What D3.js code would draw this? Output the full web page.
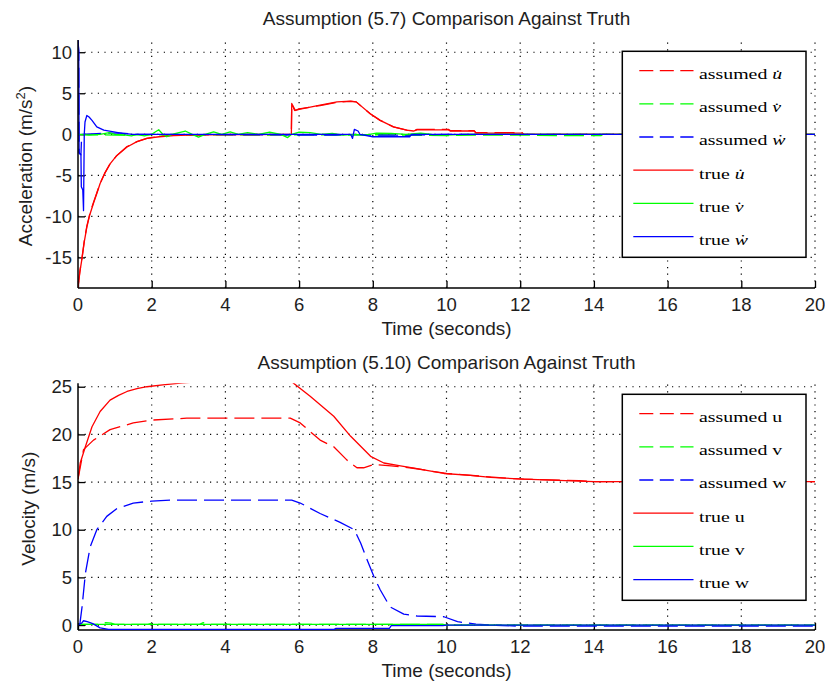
<!DOCTYPE html>
<html>
<head>
<meta charset="utf-8">
<script src="https://cdn.jsdelivr.net/npm/d3@7/dist/d3.min.js"></script>
<style>
  html, body { margin: 0; padding: 0; background: #fff; }
  svg { display: block; }
  .axis-text { font-family: "Liberation Sans", Arial, sans-serif; fill: #1e1e1e; }
  .legend-text { font-family: "Liberation Serif", "Times New Roman", serif; font-size: 15.5px; fill: #000; }
</style>
</head>
<body>
<svg id="chart" width="825" height="683"></svg>
<script>
// ---------- shared axis values ----------
const timeTicks = [0, 2, 4, 6, 8, 10, 12, 14, 16, 18, 20];
const accelTicks = [-15, -10, -5, 0, 5, 10];
const velTicks = [0, 5, 10, 15, 20, 25];
const timeDomain = [0, 20];
const accelDomain = [-18.73, 11.49];
const velDomain = [-0.52, 25.36];

// ---------- acceleration series, [time s, value m/s^2] ----------
const assumedUdot = [[0,-18.6],[0.05,-16.7],[0.11,-15.0],[0.17,-13.0],[0.24,-11.2],[0.32,-9.7],[0.42,-8.3],
  [0.52,-7.0],[0.6,-6.0],[0.72,-4.8],[0.87,-3.6],[1.05,-2.6],[1.33,-1.5],[1.6,-0.9],[1.87,-0.5],[2.2,-0.25],
  [2.6,-0.1],[3.0,-0.05],[5.79,0],[5.8,3.7],[5.88,2.9],[6.0,3.1],[6.57,3.5],[7.03,3.9],[7.4,4.0],[7.55,3.95],
  [7.93,2.5],[8.2,1.7],[8.56,0.9],[8.92,0.5],[9.1,0.4],[9.2,0.6],[10.05,0.6],[10.1,0.45],[10.75,0.45],
  [10.8,0.2],[12.05,0.2],[12.1,0],[20,0]];
const assumedVdot = [[0,0],[1.0,-0.1],[2.0,-0.05],[3.0,-0.1],[4.0,-0.05],[5.0,-0.1],[6.0,-0.05],[7.0,-0.1],
  [8.0,-0.05],[9.0,-0.1],[10.0,-0.15],[11.0,-0.1],[12.0,-0.1],[13.0,-0.15],[14.2,-0.15],[14.25,0],[20,0]];
const assumedWdot = [[0,11.4],[0.02,10.0],[0.03,-2.3],[0.08,-2.5],[0.1,0],[0.8,0.15],[1.2,0.15],[1.5,0],
  [6.0,-0.1],[7.0,-0.1],[7.4,0],[8.0,-0.1],[9.0,-0.1],[10.0,0],[20,0]];
const trueUdot = [[0,-18.7],[0.05,-16.8],[0.11,-15.1],[0.17,-13.1],[0.24,-11.3],[0.32,-9.8],[0.42,-8.4],
  [0.52,-7.1],[0.6,-6.0],[0.72,-4.8],[0.87,-3.6],[1.05,-2.6],[1.33,-1.55],[1.6,-0.9],[1.87,-0.5],[2.2,-0.3],
  [2.6,-0.15],[3.0,-0.1],[4.0,-0.05],[5.79,0],[5.8,3.75],[5.9,2.9],[6.0,3.05],[6.57,3.55],[7.03,3.95],
  [7.4,4.05],[7.55,3.95],[7.93,2.5],[8.2,1.7],[8.56,0.9],[8.92,0.5],[9.1,0.4],[9.2,0.55],[10.05,0.55],
  [10.1,0.4],[10.75,0.4],[10.8,0.15],[12.05,0.15],[12.1,0],[20,0]];
const trueVdot = [[0,0],[0.3,-0.1],[0.6,0],[0.85,0.2],[1.0,0],[1.3,-0.1],[1.45,-0.2],[1.6,0],[1.8,-0.2],
  [2.0,0],[2.19,0.55],[2.3,0],[2.41,-0.3],[2.55,0],[2.91,0.4],[3.1,0],[3.27,-0.35],[3.45,0],[3.68,0.3],
  [3.9,0],[4.13,0.3],[4.35,0],[4.6,0.2],[4.9,0],[5.2,0.25],[5.5,0],[5.69,-0.4],[5.8,0],[6.0,0.25],
  [6.3,0.2],[6.6,0],[6.9,0.1],[7.2,-0.1],[7.5,0],[7.8,-0.1],[8.1,0.15],[8.5,0.1],[8.9,0],[9.3,0.15],
  [9.6,0],[10.0,-0.1],[10.5,0],[20,0]];
const trueWdot = [[0,11.5],[0.02,10.2],[0.03,-2.2],[0.08,-2.5],[0.09,-6.4],[0.13,-6.8],[0.15,-9.3],
  [0.17,0],[0.19,1.5],[0.24,2.3],[0.3,2.1],[0.38,1.7],[0.51,0.9],[0.7,0.5],[0.97,0.3],[1.2,0.1],[1.5,0],
  [7.4,0],[7.45,-0.5],[7.5,0.6],[7.6,0.4],[7.65,0],[8.0,-0.3],[9.0,-0.3],[9.05,0],[20,0]];

// ---------- velocity series, [time s, value m/s] ----------
const assumedU = [[0,15.3],[0.15,18.4],[0.42,19.4],[0.87,20.5],[1.5,21.2],[2.0,21.5],[2.95,21.7],
  [5.76,21.7],[6.03,21.2],[6.57,19.4],[6.94,18.7],[7.3,17.3],[7.57,16.5],[7.75,16.5],[8.03,16.85],
  [8.5,16.7],[9.0,16.5],[9.5,16.2],[10.0,15.9],[10.5,15.75],[11.0,15.6],[11.8,15.35],[12.1,15.3],
  [13.6,15.15],[14.0,15.05],[20,15.05]];
const assumedV = [[0,0.07],[0.65,0.07],[0.75,0.25],[0.9,0.2],[1.0,0.07],[1.9,0.07],[2.0,0.2],[2.1,0.07],
  [2.7,0.07],[2.8,0.2],[2.95,0.07],[3.3,0.07],[3.4,0.25],[3.5,0.07],[9.9,0.07],[10.0,0],[20,0]];
const assumedW = [[0,0],[0.05,0.1],[0.11,1.9],[0.2,5.4],[0.33,8.2],[0.51,10.0],[0.78,11.4],[1.05,12.2],
  [1.5,12.8],[2.0,13.0],[2.5,13.1],[5.8,13.1],[6.03,12.8],[6.57,11.7],[7.1,10.8],[7.5,10.0],[7.67,8.6],
  [7.85,6.8],[8.03,5.1],[8.2,3.7],[8.47,1.9],[8.84,1.15],[9.2,0.95],[9.93,0.87],[10.3,0.35],[10.8,0.1],
  [11.2,0],[12.0,-0.12],[20,-0.12]];
const trueU = [[0,15.3],[0.06,17.0],[0.2,18.7],[0.38,20.8],[0.6,22.4],[0.87,23.6],[1.1,24.1],[1.33,24.5],
  [1.6,24.8],[1.87,25.0],[2.3,25.2],[2.85,25.4],[3.5,25.6],[5.8,25.8],[5.84,25.4],[6.3,24.0],[6.94,21.9],
  [7.4,19.8],[7.94,17.7],[8.3,17.0],[8.75,16.7],[9.2,16.4],[9.5,16.2],[9.93,15.9],[10.65,15.7],[11.2,15.5],
  [12.1,15.3],[13.6,15.1],[14.0,15.05],[20,15.05]];
const trueV = [[0,0.07],[9.9,0.07],[9.95,0],[20,0]];
const trueW = [[0,0],[0.1,0.2],[0.15,0.45],[0.25,0.35],[0.4,0.15],[0.6,-0.3],[0.83,-0.45],[6.95,-0.45],
  [7.0,-0.35],[8.45,-0.35],[8.5,-0.07],[9.9,-0.07],[10.0,0],[20,0]];

// ---------- legend labels ----------
const accelLabels = [["assumed ", "u̇"], ["assumed ", "v̇"], ["assumed ", "ẇ"],
                     ["true ", "u̇"], ["true ", "v̇"], ["true ", "ẇ"]];
const velLabels = [["assumed ", "u"], ["assumed ", "v"], ["assumed ", "w"],
                   ["true ", "u"], ["true ", "v"], ["true ", "w"]];

const seriesColors = ["#ff0000", "#00ff00", "#0000ff", "#ff0000", "#00ff00", "#0000ff"];
const seriesDashed = [true, true, true, false, false, false];

const svg = d3.select("#chart");
const xScale = d3.scaleLinear().domain(timeDomain).range([78, 815]);

function drawPanel(cfg) {
  const y = d3.scaleLinear().domain(cfg.domain).range([cfg.bottom, cfg.top]);
  const g = svg.append("g");
  const [x0, x1] = xScale.range();

  g.append("clipPath").attr("id", cfg.id + "-clip")
    .append("rect").attr("x", x0).attr("y", cfg.top)
    .attr("width", x1 - x0).attr("height", cfg.bottom - cfg.top);

  // dotted grid
  const grid = g.append("g").attr("stroke", "#000").attr("stroke-width", 1.2)
    .attr("stroke-dasharray", "1.2,5.4");
  grid.selectAll(".vg").data(timeTicks.filter(t => t > 0)).join("line")
    .attr("x1", d => xScale(d)).attr("x2", d => xScale(d))
    .attr("y1", cfg.bottom).attr("y2", cfg.top);
  grid.selectAll(".hg").data(cfg.ticks).join("line")
    .attr("x1", x0).attr("x2", x1)
    .attr("y1", d => y(d)).attr("y2", d => y(d));

  // axes (ticks pointing inward)
  const xAxis = d3.axisTop(xScale).tickValues(timeTicks).tickSize(7).tickFormat("");
  const yAxis = d3.axisRight(y).tickValues(cfg.ticks).tickSize(7).tickFormat("");
  const gx = g.append("g").attr("transform", `translate(0,${cfg.bottom})`).call(xAxis);
  const gy = g.append("g").attr("transform", `translate(${x0},0)`).call(yAxis);
  [gx, gy].forEach(a => {
    a.select(".domain").remove();
    a.selectAll("line").attr("stroke", "#000").attr("stroke-width", 1.3);
  });
  g.append("line").attr("x1", x0).attr("x2", x1).attr("y1", cfg.bottom).attr("y2", cfg.bottom)
    .attr("stroke", "#000").attr("stroke-width", 1.5);

  // data lines
  const line = d3.line().x(d => xScale(d[0])).y(d => y(d[1]));
  const lines = g.append("g").attr("clip-path", `url(#${cfg.id}-clip)`);
  cfg.series.forEach((s, i) => {
    lines.append("path").datum(s).attr("d", line)
      .attr("fill", "none").attr("stroke", seriesColors[i]).attr("stroke-width", 1.3)
      .attr("stroke-dasharray", seriesDashed[i] ? "20,7" : null)
      .attr("stroke-linejoin", "round");
  });

  g.append("line").attr("x1", x0).attr("x2", x0).attr("y1", cfg.top).attr("y2", cfg.bottom)
    .attr("stroke", "#000").attr("stroke-width", 1.5);

  // tick labels
  g.selectAll(".xl").data(timeTicks).join("text").attr("class", "axis-text")
    .attr("x", d => xScale(d)).attr("y", cfg.bottom + 23).attr("text-anchor", "middle")
    .attr("font-size", 18.5).text(d => d);
  g.selectAll(".yl").data(cfg.ticks).join("text").attr("class", "axis-text")
    .attr("x", x0 - 6).attr("y", d => y(d)).attr("dy", "0.36em").attr("text-anchor", "end")
    .attr("font-size", 18.5).text(d => d);

  // title and axis labels
  g.append("text").attr("class", "axis-text").attr("x", 446.5).attr("y", cfg.titleY)
    .attr("text-anchor", "middle").attr("font-size", 19).text(cfg.title);
  g.append("text").attr("class", "axis-text").attr("x", 446.5).attr("y", cfg.bottom + 47)
    .attr("text-anchor", "middle").attr("font-size", 19).text("Time (seconds)");
  const yl = g.append("text").attr("class", "axis-text")
    .attr("transform", `translate(${cfg.ylabelX},${(cfg.top + cfg.bottom) / 2 + 2}) rotate(-90)`)
    .attr("text-anchor", "middle").attr("font-size", 19);
  cfg.ylabel(yl);

  // legend
  const lg = g.append("g");
  lg.append("rect").attr("x", 622.3).attr("y", cfg.legendTop).attr("width", 183.7).attr("height", 206)
    .attr("fill", "#fff").attr("stroke", "#000").attr("stroke-width", 1.5);
  cfg.labels.forEach((lab, i) => {
    const ry = cfg.legendTop + 19.3 + i * 33.2;
    lg.append("line").attr("x1", seriesDashed[i] ? 639.3 : 633.3).attr("x2", 693.5)
      .attr("y1", ry).attr("y2", ry).attr("stroke", seriesColors[i]).attr("stroke-width", 1.3)
      .attr("stroke-dasharray", seriesDashed[i] ? "14,6.5" : null);
    // wide, squat lettering of the legend labels
    const t = lg.append("text").attr("class", "legend-text")
      .attr("transform", `translate(699,${ry + 8.3}) scale(1.28,1)`);
    t.append("tspan").text(lab[0]);
    t.append("tspan").attr("font-style", cfg.italicSymbols ? "italic" : "normal").text(lab[1]);
  });
}

drawPanel({
  id: "accel", top: 40, bottom: 288, domain: accelDomain, ticks: accelTicks,
  title: "Assumption (5.7) Comparison Against Truth", titleY: 25, ylabelX: 32,
  ylabel: t => { t.append("tspan").text("Acceleration (m/s");
                 t.append("tspan").attr("font-size", 13).attr("dy", -7).text("2");
                 t.append("tspan").attr("dy", 7).text(")"); },
  series: [assumedUdot, assumedVdot, assumedWdot, trueUdot, trueVdot, trueWdot],
  labels: accelLabels, italicSymbols: true, legendTop: 51.3
});

drawPanel({
  id: "vel", top: 383.3, bottom: 630, domain: velDomain, ticks: velTicks,
  title: "Assumption (5.10) Comparison Against Truth", titleY: 369, ylabelX: 35,
  ylabel: t => t.text("Velocity (m/s)"),
  series: [assumedU, assumedV, assumedW, trueU, trueV, trueW],
  labels: velLabels, italicSymbols: false, legendTop: 394.3
});
</script>
</body>
</html>
